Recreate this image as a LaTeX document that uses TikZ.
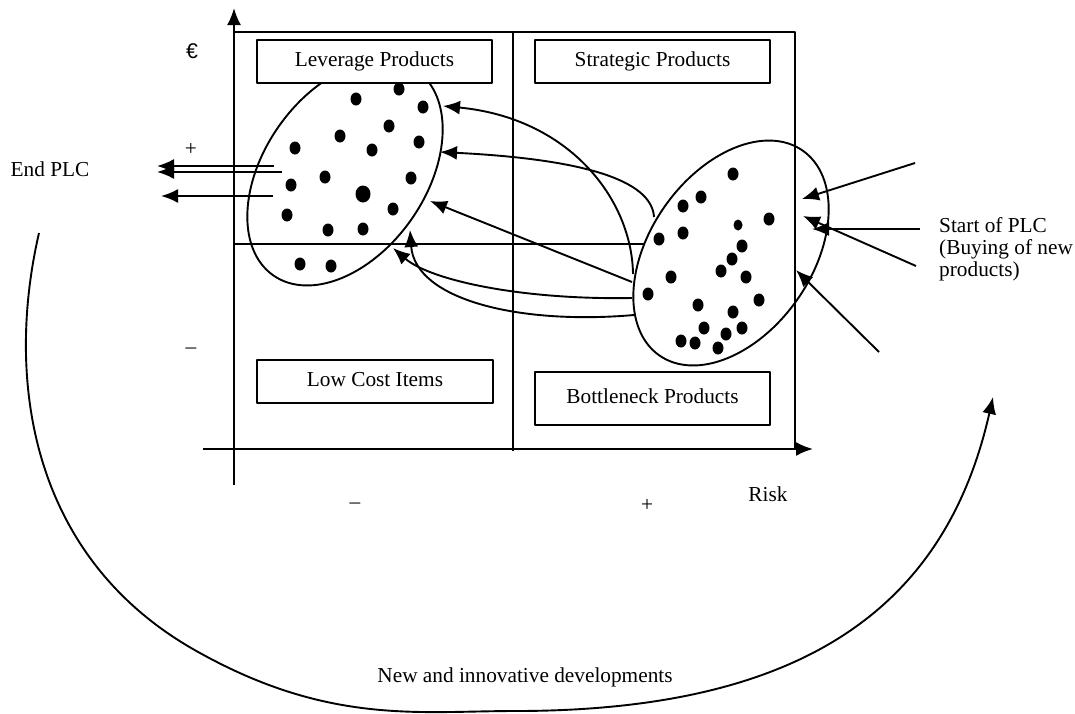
\documentclass[tikz,border=0pt]{standalone}
\usepackage{fontspec}
\setmainfont{Liberation Serif}
\newfontfamily\eurofont{Liberation Sans}
\usetikzlibrary{arrows.meta,shapes.geometric}

\begin{document}
\begin{tikzpicture}[x=1pt,y=-1pt,line join=round,>={Latex[length=17pt,width=14pt]},
    every node/.style={font=\fontsize{21.3}{22}\selectfont,inner sep=0pt},
    quadbox/.style={draw,line width=2.2pt,fill=white,text height=14.5pt,text depth=4.5pt},
    frameline/.style={line width=2.2pt},
    flowline/.style={line width=1.9pt},
    cluster/.style={ellipse,draw,line width=1.9pt,rotate=55,minimum width=250pt,minimum height=162pt}]
  \useasboundingbox (0,0) rectangle (1075,713);
  \draw[frameline,->] (234,485)--(234,8);
  \draw[frameline,->] (203,449)--(813,449);
  \draw[frameline] (234,244)--(795,244);
  \node[cluster] (leverset) at (345,173) {};
  \foreach \p in {(356,99),(399,89),(423,107),(389,126),(340,136),(419,142),(295,148),(372,150),
                  (325,177),(291,185),(411,178),(287,215),(393,209),(328,230),(363,229),(300,264),(331,266)}
    \fill \p ellipse (5.5 and 6.5);
  \fill (363,194) ellipse (7.5 and 8.5);
  % arrows from the new products back to leverage
  \coordinate (a1) at (633,274); \coordinate (b1) at (443,106);
  \coordinate (a2) at (654,217); \coordinate (b2) at (440,152);
  \coordinate (a3) at (632,282); \coordinate (b3) at (430,201);
  \coordinate (a4) at (634,315); \coordinate (b4) at (410,230);
  \coordinate (a5) at (632,298); \coordinate (b5) at (393,248);
  \draw[flowline,->] (a1) .. controls (632,200) and (570,118) .. (b1);
  \draw[flowline,->] (a2) .. controls (652,185) and (600,160) .. (b2);
  \draw[flowline,->] (a3) -- (b3);
  \draw[flowline,->] (a4) .. controls (520,325) and (415,300) .. (b4);
  \draw[flowline,->] (a5) .. controls (520,300) and (430,280) .. (b5);
  \node[cluster,fill=white] (newset) at (731,253) {};
  \foreach \p in {(733,174),(701,197),(683,206),(769,219),(683,233),(659,239),(742,246),(732,259),
                  (721,271),(746,277),(671,277),(648,294),(759,300),(698,305),(733,312),(704,328),
                  (742,328),(726,334),(681,341),(695,343),(718,348)}
    \fill \p ellipse (5.5 and 6.5);
  \fill (738,225) ellipse (4.5 and 5.5);
  \draw[frameline] (234,32) rectangle (795,449);
  \draw[frameline] (513,32)--(513,451);
  \node[quadbox,minimum width=235pt,minimum height=43pt] (leverage) at (374.5,61.5) {Leverage Products};
  \node[quadbox,minimum width=235pt,minimum height=43pt] (strategic) at (652.5,61.5) {Strategic Products};
  \node[quadbox,minimum width=236pt,minimum height=43pt] (lowcost) at (375,381.5) {Low Cost Items};
  \node[quadbox,minimum width=235pt,minimum height=53pt] (bottleneck) at (652.5,398.5) {Bottleneck Products};
  \node (euro) at (192,51) {\eurofont €};
  \node (yplus) at (191,149) {+};
  \node (yminus) at (191,351) {–};
  \node (xminus) at (355,506) {–};
  \node (xplus) at (647,505) {+};
  \node (risk) at (768,494) {Risk};
  \node (endplc) at (50,169) {End PLC};
  \node[align=left,anchor=west] (startplc) at (939,249) {Start of PLC\\(Buying of new\\products)};
  \node (innovation) at (525,677) {New and innovative developments};
  % end of the life cycle
  \coordinate (e1) at (274,166); \coordinate (f1) at (157,166);
  \coordinate (e2) at (282,172); \coordinate (f2) at (157,172);
  \coordinate (e3) at (273,196); \coordinate (f3) at (161,196);
  \draw[flowline,->] (e1)--(f1);
  \draw[flowline,->] (e2)--(f2);
  \draw[flowline,->] (e3)--(f3);
  % start of the life cycle
  \coordinate (s1) at (915,163); \coordinate (t1) at (802,199);
  \coordinate (s2) at (920,229); \coordinate (t2) at (812,229);
  \coordinate (s3) at (916,266); \coordinate (t3) at (803,216);
  \coordinate (s4) at (879,352); \coordinate (t4) at (796,270);
  \foreach \i in {1,...,4}
    \draw[flowline,->] (s\i)--(t\i);
  \coordinate (loopstart) at (39,233);
  \coordinate (loopend) at (993,397);
  \draw[flowline,->] (loopstart) .. controls (5,380) and (30,560) .. (200,653)
    .. controls (330,725) and (420,711) .. (515,711)
    .. controls (800,711) and (945,610) .. (loopend);
\end{tikzpicture}
\end{document}
